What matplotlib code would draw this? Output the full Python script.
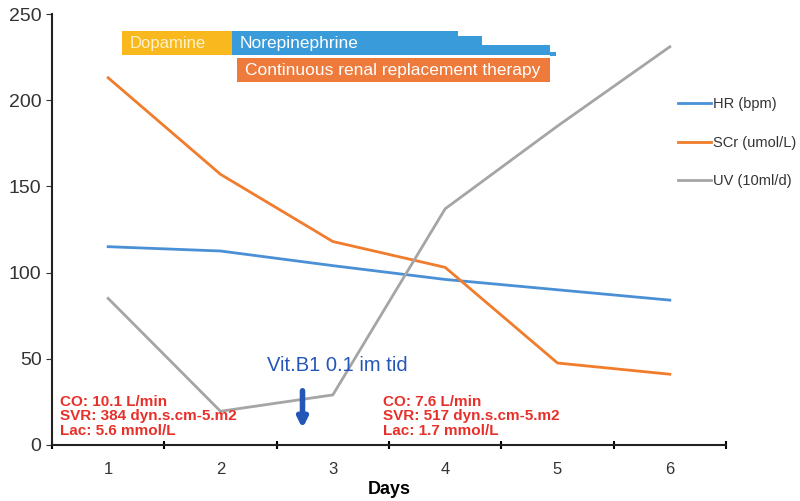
import matplotlib.pyplot as plt
from matplotlib.patches import Rectangle

plt.rcParams['font.family'] = ['Liberation Sans', 'DejaVu Sans']

days = [1, 2, 3, 4, 5, 6]
hr = [115, 112.5, 104, 96, 90, 84]
scr = [213, 157, 118, 103, 47.5, 41]
uv = [85, 19.5, 29, 137, 185, 231]

# therapy bars: (label, x start, x end, y bottom, y top, colour)
bars = [
    ('Dopamine', 1.12, 2.10, 226, 240, '#F8B81E'),
    ('Norepinephrine', 2.10, 4.11, 226, 240, '#3A9BDA'),
    ('', 4.11, 4.33, 226, 237.5, '#3A9BDA'),
    ('', 4.33, 4.93, 226, 232, '#3A9BDA'),
    ('', 4.93, 4.99, 225.5, 228, '#3A9BDA'),
    ('Continuous renal replacement therapy', 2.15, 4.93, 210.5, 224.5, '#EE7A3C'),
]

fig = plt.figure(figsize=(8, 5.01), dpi=100)
ax = fig.add_axes([0.065, 0.112, 0.8425, 0.86])

ax.plot(days, hr, color='#4A90D6', lw=2, label='HR (bpm)')
ax.plot(days, scr, color='#F07C2C', lw=2, label='SCr (umol/L)')
ax.plot(days, uv, color='#A5A5A5', lw=2, label='UV (10ml/d)')

for name, x0, x1, y0, y1, c in bars:
    ax.add_patch(Rectangle((x0, y0), x1 - x0, y1 - y0, color=c, lw=0))
    if name:
        tc = '#FFF3C8' if name == 'Dopamine' else 'white'
        fs = 12 if name == 'Dopamine' else 12.5
        ax.text(x0 + 0.07, (y0 + y1) / 2, name, color=tc, fontsize=fs, va='center')

ax.set_xlim(0.5, 6.5)
ax.set_ylim(0, 250)
ax.set_xticks([0.5, 1.5, 2.5, 3.5, 4.5, 5.5, 6.5])
ax.set_xticklabels([])
ax.set_xticks(days, minor=True)
ax.set_xticklabels([str(d) for d in days], minor=True, fontsize=12, color='#333333')
ax.tick_params(axis='x', which='minor', length=0, pad=12)
ax.tick_params(axis='x', which='major', length=6, direction='inout', width=1.5)
ax.set_yticks([0, 50, 100, 150, 200, 250])
ax.tick_params(axis='y', labelsize=14, colors='#333333', direction='out', length=4)
for s in ['top', 'right']:
    ax.spines[s].set_visible(False)
for s in ['left', 'bottom']:
    ax.spines[s].set_linewidth(1.5)
    ax.spines[s].set_color('#222222')
ax.set_xlabel('Days', fontsize=13, fontweight='bold', labelpad=3)

leg = ax.legend(loc='upper left', bbox_to_anchor=(0.91, 0.837), frameon=False,
                fontsize=10.5, handlelength=2.2, handletextpad=0.15, labelspacing=1.68)
for t in leg.get_texts():
    t.set_color('#333333')

left_note = 'CO: 10.1 L/min\nSVR: 384 dyn.s.cm-5.m2\nLac: 5.6 mmol/L'
right_note = 'CO: 7.6 L/min\nSVR: 517 dyn.s.cm-5.m2\nLac: 1.7 mmol/L'
ax.text(0.57, 4, left_note, color='#E8302A', fontsize=11, fontweight='bold',
        va='bottom', linespacing=1.05)
ax.text(3.45, 4, right_note, color='#E8302A', fontsize=11, fontweight='bold',
        va='bottom', linespacing=1.05)
ax.text(2.41, 46, 'Vit.B1 0.1 im tid', color='#2456B8', fontsize=14.5, va='center')
ax.annotate('', xy=(2.73, 8), xytext=(2.73, 33),
            arrowprops=dict(arrowstyle='-|>', color='#2456B8', lw=4, mutation_scale=14))

fig.savefig('out.png', dpi=100)
